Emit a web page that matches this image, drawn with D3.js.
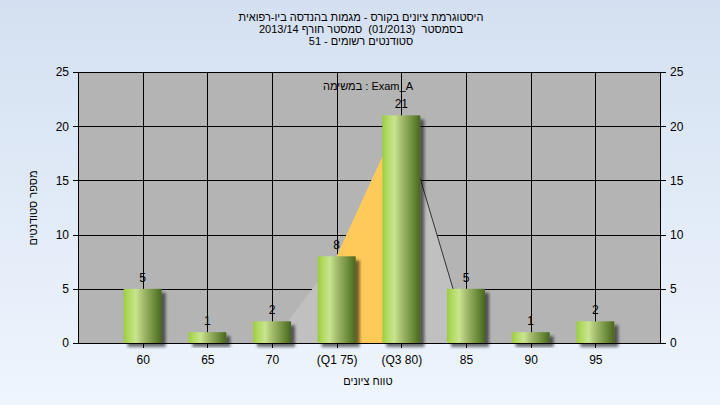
<!DOCTYPE html>
<html><head><meta charset="utf-8">
<script src="https://cdn.jsdelivr.net/npm/d3@7"></script>
<style>
html,body{margin:0;padding:0;}
svg{display:block;}
text{font-family:"Liberation Sans","DejaVu Sans",Arial,sans-serif;white-space:pre;}
</style></head>
<body>
<script>
// ---- data ----
const titleLines = ["היסטוגרמת ציונים בקורס - מגמות בהנדסה ביו-רפואית",
                    "בסמסטר  (01/2013)  סמסטר חורף 2013/14",
                    "סטודנטים רשומים - 51"];
const taskLabel = "במשימה : Exam_A";
const yTitle = "מספר סטודנטים";
const xTitle = "טווח ציונים";
const grades = [60, 65, 70, 75, 80, 85, 90, 95];
const categories = ["60", "65", "70", "(Q1 75)", "(Q3 80)", "85", "90", "95"];
const counts = [5, 1, 2, 8, 21, 5, 1, 2];
const yTicks = [0, 5, 10, 15, 20, 25];
const gridY = [5, 10, 15, 20];
const areaGrades = [70, 75, 80, 85];
const areaCounts = [0, 8, 21, 1];
const quartileRange = [75, 80];

// ---- layout ----
const W = 720, H = 405;
const M = {left: 78, right: 660, top: 72, bottom: 343};
const svg = d3.select("body").append("svg").attr("width", W).attr("height", H);
const defs = svg.append("defs");

const bg = defs.append("linearGradient").attr("id", "bg").attr("x1", 0).attr("y1", 0).attr("x2", 0).attr("y2", 1);
bg.append("stop").attr("offset", "0%").attr("stop-color", "#d4e0f1");
bg.append("stop").attr("offset", "100%").attr("stop-color", "#eef5fd");

const bar = defs.append("linearGradient").attr("id", "bar").attr("x1", 0).attr("y1", 0).attr("x2", 1).attr("y2", 0);
[["0%", "#9ccc3e"], ["12%", "#b0d860"], ["32%", "#c9e48f"], ["55%", "#9cb466"], ["80%", "#6c8c3a"], ["100%", "#4a6422"]]
  .forEach(([o, c]) => bar.append("stop").attr("offset", o).attr("stop-color", c));

const sh = defs.append("filter").attr("id", "shadow").attr("x", "-20%").attr("y", "-20%").attr("width", "160%").attr("height", "160%");
sh.append("feDropShadow").attr("dx", 4).attr("dy", 4).attr("stdDeviation", 1.8).attr("flood-color", "#000").attr("flood-opacity", 0.55);

svg.append("rect").attr("width", W).attr("height", H).attr("fill", "url(#bg)");

const x = d3.scaleLinear().domain([55, 100]).range([M.left, M.right]);
const y = d3.scaleLinear().domain([0, 25]).range([M.bottom, M.top]);

// plot background
svg.append("rect").attr("x", M.left).attr("y", M.top).attr("width", M.right - M.left).attr("height", M.bottom - M.top).attr("fill", "#b4b4b4");

// grid
const grid = svg.append("g").attr("stroke", "#000").attr("stroke-width", 1).attr("shape-rendering", "crispEdges");
grid.selectAll(".gx").data(grades).join("line")
  .attr("x1", d => Math.round(x(d)) + 0.5).attr("x2", d => Math.round(x(d)) + 0.5)
  .attr("y1", M.top).attr("y2", M.bottom);
grid.selectAll(".gy").data(gridY).join("line")
  .attr("x1", M.left).attr("x2", M.right)
  .attr("y1", d => Math.round(y(d)) + 0.5).attr("y2", d => Math.round(y(d)) + 0.5);

// area
const areaData = areaGrades.map((g, i) => ({g, v: areaCounts[i]}));
const areaGen = d3.area().x(d => x(d.g)).y0(y(0)).y1(d => y(d.v));
svg.append("path").attr("d", areaGen(areaData)).attr("fill", "#c0c0c0");
defs.append("clipPath").attr("id", "qclip").append("rect")
  .attr("x", x(quartileRange[0])).attr("y", M.top).attr("width", x(quartileRange[1]) - x(quartileRange[0])).attr("height", M.bottom - M.top);
svg.append("path").attr("d", areaGen(areaData)).attr("fill", "#ffca5a").attr("clip-path", "url(#qclip)");
svg.append("path").attr("d", d3.line().x(d => x(d.g)).y(d => y(d.v))(areaData.slice(2)))
  .attr("fill", "none").attr("stroke", "#333").attr("stroke-width", 1);

// bars
const bw = 38;
svg.append("g").selectAll("rect").data(grades).join("rect")
  .attr("x", d => x(d) - bw / 2).attr("width", bw)
  .attr("y", (d, i) => y(counts[i])).attr("height", (d, i) => y(0) - y(counts[i]))
  .attr("fill", "url(#bar)").attr("filter", "url(#shadow)");

// value labels
svg.append("g").selectAll("text").data(grades).join("text")
  .attr("x", d => x(d)).attr("y", (d, i) => y(counts[i]) - 7)
  .attr("text-anchor", "middle").attr("font-size", 12).attr("fill", "#000")
  .text((d, i) => counts[i]);

// axes
const axisStyle = g => {
  g.selectAll("path,line").attr("stroke", "#000").attr("shape-rendering", "crispEdges");
  g.selectAll("text").attr("font-size", 12).attr("fill", "#000").attr("font-family", "Liberation Sans, DejaVu Sans, Arial, sans-serif");
};
svg.append("g").attr("transform", `translate(${M.left},0)`)
  .call(d3.axisLeft(y).tickValues(yTicks).tickSize(5).tickSizeOuter(0).tickPadding(4)).call(axisStyle);
svg.append("g").attr("transform", `translate(${M.right},0)`)
  .call(d3.axisRight(y).tickValues(yTicks).tickSize(6).tickSizeOuter(0).tickPadding(4)).call(axisStyle);
svg.append("g").attr("transform", `translate(0,${M.bottom})`)
  .call(d3.axisBottom(x).tickValues(grades).tickFormat((d, i) => categories[i]).tickSize(5).tickSizeOuter(0).tickPadding(7)).call(axisStyle);
svg.append("line").attr("x1", M.left).attr("x2", M.right).attr("y1", M.top + 0.5).attr("y2", M.top + 0.5)
  .attr("stroke", "#000").attr("shape-rendering", "crispEdges");

// titles
svg.append("g").selectAll("text").data(titleLines).join("text")
  .attr("x", 361).attr("y", (d, i) => 21 + i * 12)
  .attr("text-anchor", "middle").attr("font-size", 11).attr("fill", "#000").text(d => d);
svg.append("text").attr("x", 368).attr("y", 90).attr("text-anchor", "middle").attr("font-size", 11).text(taskLabel);
svg.append("text").attr("transform", "translate(37,208) rotate(-90)").attr("text-anchor", "middle").attr("font-size", 11).text(yTitle);
svg.append("text").attr("x", 368).attr("y", 385).attr("text-anchor", "middle").attr("font-size", 11).text(xTitle);
</script>
</body></html>
